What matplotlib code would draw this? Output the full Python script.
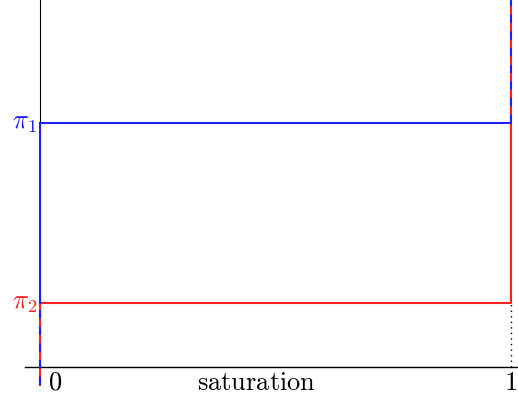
import matplotlib
matplotlib.use("Agg")
import matplotlib.pyplot as plt

plt.rcParams['mathtext.fontset'] = 'cm'
plt.rcParams['font.family'] = ['DejaVu Serif']

x_ticks = [0, 1]
x_tick_labels = [r"$0$", r"$1$"]
pi_values = [0.665, 0.175]          # pi_1, pi_2
pi_labels = [r"$\pi_1$", r"$\pi_2$"]
pi_colors = ["#1f1fff", "#ff2020"]
x_label = r"$\mathrm{saturation}$"

W, H = 518, 405
fig = plt.figure(figsize=(W / 100, H / 100), dpi=100)
ax = fig.add_axes([0, 0, 1, 1])
ax.set_axis_off()
ax.set_xlim(-40 / 471, 1 + 7 / 471)
ax.set_ylim(-38 / 367, 1.0)

lw = 1.5
ylow = -0.05
pi1, pi2 = pi_values
blue, red = pi_colors

# axes lines
ax.plot([-15 / 471, 1 + 7 / 471], [0, 0], color="black", lw=1.0, zorder=1)
ax.plot([0, 0], [0, 1.0], color="black", lw=0.8, zorder=1)
ax.plot([1, 1], [0, pi2], color="black", lw=1.0, ls=(0, (1, 3)), zorder=1)

# red path
ax.plot([0, 0, 1, 1], [ylow, pi2, pi2, 1.0], color=red, lw=lw, zorder=2)
# blue path
ax.plot([0, 0], [pi2, pi1], color=blue, lw=lw, zorder=3)
ax.plot([0, 1], [pi1, pi1], color=blue, lw=lw, zorder=3)
ax.plot([0, 0], [ylow, pi2], color=blue, lw=lw, ls=(0, (4, 4)), zorder=3)
ax.plot([1, 1], [pi1, 1.0], color=blue, lw=lw, ls=(0, (4, 4)), zorder=3)

# labels
ax.text(x_ticks[0] + 0.017, -0.008, x_tick_labels[0], ha="left", va="top", fontsize=19)
ax.text(x_ticks[1], -0.008, x_tick_labels[1], ha="center", va="top", fontsize=19)
ax.text(0.459, -0.008, x_label, ha="center", va="top", fontsize=19)
for v, lab, c in zip(pi_values, pi_labels, pi_colors):
    ax.text(-0.006, v, lab, ha="right", va="center", fontsize=19, color=c)

fig.savefig("out.png", dpi=100)
